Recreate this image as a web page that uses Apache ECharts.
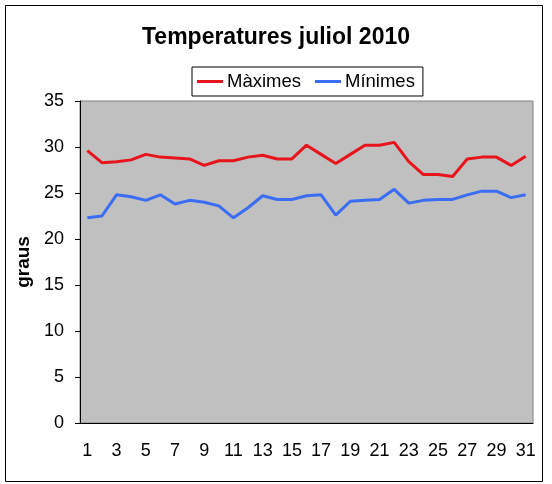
<!DOCTYPE html>
<html>
<head>
<meta charset="utf-8">
<script src="https://cdn.jsdelivr.net/npm/echarts@6/dist/echarts.min.js"></script>
<style>
  html, body { margin: 0; padding: 0; background: #fff; }
  #chart { width: 552px; height: 484px; }
</style>
</head>
<body>
<div id="chart"></div>
<script type="text/javascript">
	var days = [];
	for (var d = 1; d <= 31; d++) days.push(String(d));

	var maximes = [29.6, 28.3, 28.4, 28.6, 29.2, 28.9, 28.8, 28.7, 28.0, 28.5,
		28.5, 28.9, 29.1, 28.7, 28.7, 30.2, 29.2, 28.2, 29.2, 30.2,
		30.2, 30.5, 28.4, 27.0, 27.0, 26.8, 28.7, 28.9, 28.9, 28.0, 29.0];
	var minimes = [22.3, 22.5, 24.8, 24.6, 24.2, 24.8, 23.8, 24.2, 24.0, 23.6,
		22.3, 23.4, 24.7, 24.3, 24.3, 24.7, 24.8, 22.6, 24.1, 24.2,
		24.3, 25.4, 23.9, 24.2, 24.3, 24.3, 24.8, 25.2, 25.2, 24.5, 24.8];

	var font = 'Liberation Sans, Arial, sans-serif';

	var option = {
		animation: false,
		backgroundColor: '#fff',
		title: {
			text: 'Temperatures juliol 2010',
			left: 'center', top: 21,
			textStyle: { fontFamily: font, fontSize: 23, fontWeight: 'bold', color: '#000' }
		},
		legend: {
			data: ['Màximes', 'Mínimes'],
			left: 192, top: 67,
			borderColor: '#000', borderWidth: 1,
			padding: [5, 8, 5, 5],
			itemGap: 14,
			itemWidth: 26, itemHeight: 3,
			icon: 'rect',
			textStyle: { fontFamily: font, fontSize: 18.5, color: '#000', padding: [0, 0, 0, -1] }
		},
		grid: {
			left: 80, right: 19, top: 101, bottom: 61,
			show: true, backgroundColor: '#c0c0c0', borderColor: '#808080', borderWidth: 1
		},
		xAxis: {
			type: 'category',
			data: days,
			boundaryGap: true,
			axisLine: { lineStyle: { color: '#000' } },
			axisTick: { interval: 0, length: 5, lineStyle: { color: '#000' } },
			axisLabel: { interval: 1, margin: 19, fontFamily: font, fontSize: 18, color: '#000' }
		},
		yAxis: {
			type: 'value',
			min: 0, max: 35, interval: 5,
			name: 'graus',
			nameLocation: 'middle',
			nameGap: 42,
			nameTextStyle: { fontFamily: font, fontSize: 19, fontWeight: 'bold', color: '#000' },
			axisLine: { show: true, lineStyle: { color: '#000' } },
			axisTick: { show: true, length: 5, lineStyle: { color: '#000' } },
			splitLine: { show: false },
			axisLabel: { margin: 16, fontFamily: font, fontSize: 18, color: '#000' }
		},
		graphic: [{
			type: 'rect',
			shape: { x: 5.5, y: 5.5, width: 537, height: 476 },
			style: { fill: 'none', stroke: '#000', lineWidth: 1 },
			z: -1
		}],
		series: [
			{
				name: 'Màximes', type: 'line', data: maximes,
				showSymbol: false, symbol: 'none',
				color: '#e8141c',
				lineStyle: { width: 3, color: '#e8141c' }
			},
			{
				name: 'Mínimes', type: 'line', data: minimes,
				showSymbol: false, symbol: 'none',
				color: '#3a6cf4',
				lineStyle: { width: 3, color: '#3a6cf4' }
			}
		]
	};

	var myChart = echarts.init(document.getElementById('chart'));
	myChart.setOption(option);
</script>
</body>
</html>
